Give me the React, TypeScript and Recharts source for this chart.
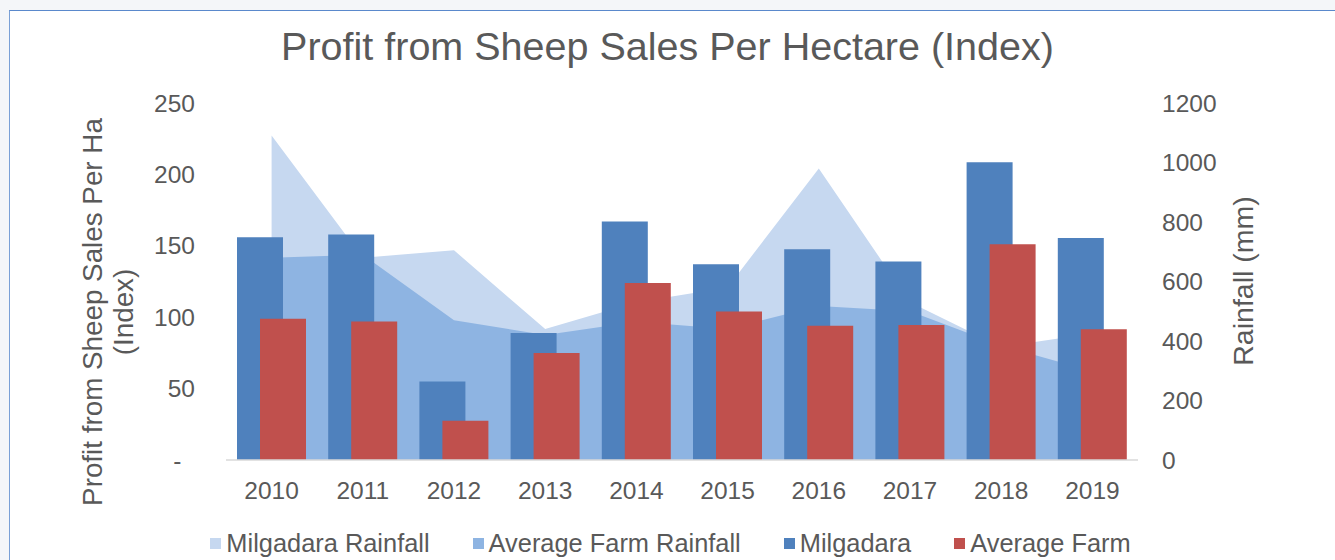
import React from 'react';
import { ComposedChart, Bar, Area, XAxis, YAxis } from 'recharts';

const years = ['2010', '2011', '2012', '2013', '2014', '2015', '2016', '2017', '2018', '2019'];
const milgadara = [156, 158, 55, 89, 167, 137, 147.5, 139, 208.5, 155.5];
const averageFarm = [99, 97, 27.5, 75, 124, 104, 94, 94.5, 151, 91.5];
const milgadaraRainfall = [1091, 680, 705, 440, 530, 580, 980, 530, 380, 425];
const averageFarmRainfall = [680, 690, 470, 420, 465, 440, 518, 500, 385, 298];
const leftTicks = [0, 50, 100, 150, 200, 250];
const rightTicks = [0, 200, 400, 600, 800, 1000, 1200];

const COLORS = {
  milgadaraRainfall: '#c6d8f0',
  averageFarmRainfall: '#8eb4e2',
  milgadara: '#4f81bd',
  averageFarm: '#c0504d',
};

const legendItems = [
  { name: 'Milgadara Rainfall', color: COLORS.milgadaraRainfall },
  { name: 'Average Farm Rainfall', color: COLORS.averageFarmRainfall },
  { name: 'Milgadara', color: COLORS.milgadara },
  { name: 'Average Farm', color: COLORS.averageFarm },
];

const data = years.map((year, i) => ({
  year,
  milgadara: milgadara[i],
  averageFarm: averageFarm[i],
  milgadaraRainfall: milgadaraRainfall[i],
  averageFarmRainfall: averageFarmRainfall[i],
}));

const FONT = '"Liberation Sans", Arial, sans-serif';
const TEXT = '#595959';

export default function App() {
  const tickStyle = { fill: TEXT, fontSize: 24.5, fontFamily: FONT };
  return (
    <div style={{ position: 'fixed', left: 0, top: 0, width: 1335, height: 560, background: '#f4f6f9', overflow: 'hidden', fontFamily: FONT }}>
      <div style={{ position: 'absolute', left: 9, top: 10, right: 0, bottom: 0, background: '#ffffff', borderTop: '1.5px solid #5a89cc', borderLeft: '1.5px solid #7aa0d6' }} />
      <div style={{ position: 'absolute', left: 0, top: 27, width: 1335, textAlign: 'center', fontSize: 39.5, lineHeight: '39.5px', color: TEXT, whiteSpace: 'nowrap' }}>
        Profit from Sheep Sales Per Hectare (Index)
      </div>
      <div style={{ position: 'absolute', left: 0, top: 0 }}>
        <ComposedChart width={1335} height={560} data={data} margin={{ top: 103, right: 0, bottom: 0, left: 0 }} barGap={-23}>
          <XAxis dataKey="year" interval={0} height={100} tickLine={false} tickSize={0} tickMargin={22} axisLine={{ stroke: '#d9d9d9', strokeWidth: 1.5 }} tick={tickStyle} />
          <YAxis yAxisId="left" orientation="left" width={226} domain={[0, 250]} ticks={leftTicks} allowDataOverflow tickFormatter={(v: number) => (v === 0 ? '-\u00a0\u00a0' : String(v))} axisLine={false} tickLine={false} tickSize={0} tickMargin={31} tick={tickStyle} />
          <YAxis yAxisId="right" orientation="right" width={197} domain={[0, 1200]} ticks={rightTicks} allowDataOverflow axisLine={false} tickLine={false} tickSize={0} tickMargin={24} tick={tickStyle} />
          <Area yAxisId="right" type="linear" dataKey="milgadaraRainfall" name="Milgadara Rainfall" fill={COLORS.milgadaraRainfall} fillOpacity={1} stroke="none" dot={false} activeDot={false} isAnimationActive={false} />
          <Area yAxisId="right" type="linear" dataKey="averageFarmRainfall" name="Average Farm Rainfall" fill={COLORS.averageFarmRainfall} fillOpacity={1} stroke="none" dot={false} activeDot={false} isAnimationActive={false} />
          <Bar yAxisId="left" dataKey="milgadara" name="Milgadara" fill={COLORS.milgadara} barSize={46} isAnimationActive={false} />
          <Bar yAxisId="left" dataKey="averageFarm" name="Average Farm" fill={COLORS.averageFarm} barSize={46} isAnimationActive={false} />
        </ComposedChart>
      </div>
      <div style={{ position: 'absolute', left: 108, top: 312, transform: 'translate(-50%, -50%) rotate(-90deg)', fontSize: 27.8, lineHeight: '31px', color: TEXT, textAlign: 'center', whiteSpace: 'nowrap' }}>
        <div>Profit from Sheep Sales Per Ha</div>
        <div>(Index)</div>
      </div>
      <div style={{ position: 'absolute', left: 1243, top: 281, transform: 'translate(-50%, -50%) rotate(-90deg)', fontSize: 28.5, lineHeight: '31px', color: TEXT, whiteSpace: 'nowrap' }}>
        Rainfall (mm)
      </div>
      <div style={{ position: 'absolute', left: 3, top: 531, width: 1335, display: 'flex', justifyContent: 'center', alignItems: 'center', fontSize: 25.4, lineHeight: '25px', color: TEXT, whiteSpace: 'nowrap' }}>
        {legendItems.map((item, i) => (
          <div key={item.name} style={{ display: 'flex', alignItems: 'center', marginLeft: i === 0 ? 0 : 43 }}>
            <span style={{ display: 'inline-block', width: 11, height: 11, background: item.color, marginRight: 5 }} />
            <span>{item.name}</span>
          </div>
        ))}
      </div>
    </div>
  );
}
